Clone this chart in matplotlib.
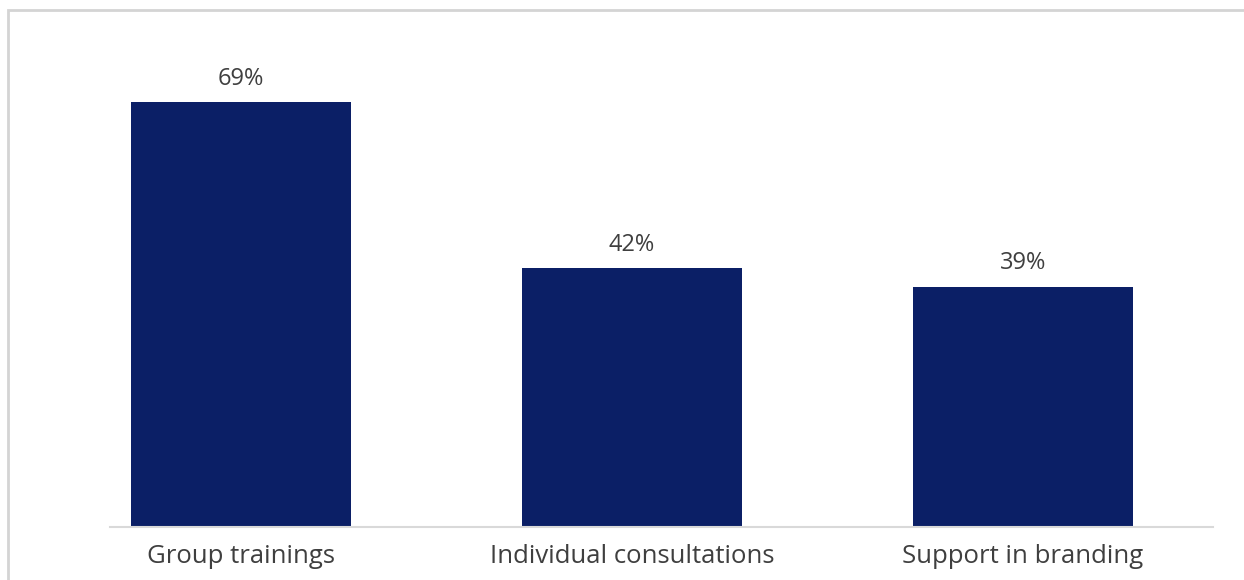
import matplotlib
matplotlib.use("Agg")
import matplotlib.pyplot as plt
from matplotlib.patches import Rectangle

categories = ["Group trainings", "Individual consultations", "Support in branding"]
values = [69, 42, 39]
value_labels = ["69%", "42%", "39%"]

bar_color = "#0b1f66"
text_color = "#3f3f3f"

fig = plt.figure(figsize=(12.44, 5.8), dpi=100)
fig.patch.set_facecolor("white")

# light frame around the chart area
fig.patches.append(Rectangle((8 / 1244, -0.05), 1.1, 570 / 580 + 0.05,
                             transform=fig.transFigure, fill=False,
                             edgecolor="#d4d4d4", linewidth=2.0))

ax = fig.add_axes([110 / 1244, 53 / 580, (1213 - 110) / 1244, 487 / 580])
x = range(len(categories))
bars = ax.bar(x, values, width=0.565, color=bar_color, zorder=2)

ax.set_xlim(-0.335, 2.486)
ax.set_ylim(0, 79)

for rect, lab in zip(bars, value_labels):
    ax.annotate(lab, (rect.get_x() + rect.get_width() / 2, rect.get_height()),
                xytext=(0, 8), textcoords="offset points", ha="center", va="bottom",
                fontsize=17, color=text_color, family="Open Sans")

ax.set_xticks(list(x))
ax.set_xticklabels(categories, fontsize=18.5, color=text_color, family="Open Sans")
ax.tick_params(axis="x", length=0, pad=12)
ax.set_yticks([])
for side in ["top", "right", "left"]:
    ax.spines[side].set_visible(False)
ax.spines["bottom"].set_color("#d9d9d9")
ax.spines["bottom"].set_linewidth(1.5)

fig.savefig("out.png", dpi=100, facecolor="white")
